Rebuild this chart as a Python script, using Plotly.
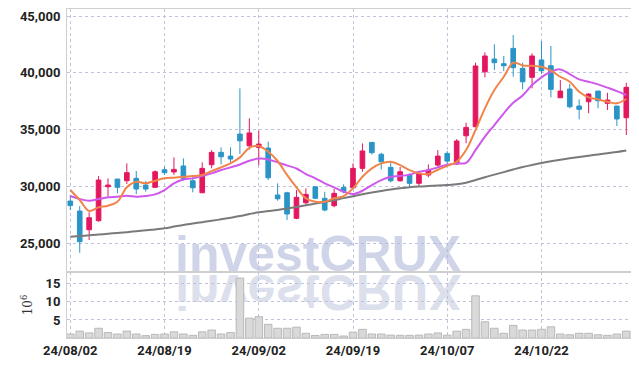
import plotly.graph_objects as go
import base64

dates = ["24/08/02","24/08/05","24/08/06","24/08/07","24/08/08","24/08/09","24/08/12","24/08/13","24/08/14","24/08/16",
         "24/08/19","24/08/20","24/08/21","24/08/22","24/08/23","24/08/26","24/08/27","24/08/28","24/08/29","24/08/30",
         "24/09/02","24/09/03","24/09/04","24/09/05","24/09/06","24/09/09","24/09/10","24/09/11","24/09/12","24/09/13",
         "24/09/19","24/09/20","24/09/23","24/09/24","24/09/25","24/09/26","24/09/27","24/09/30","24/10/02","24/10/04",
         "24/10/07","24/10/08","24/10/10","24/10/11","24/10/14","24/10/15","24/10/16","24/10/17","24/10/18","24/10/21",
         "24/10/22","24/10/23","24/10/24","24/10/25","24/10/28","24/10/29","24/10/30","24/10/31","24/11/01","24/11/04"]

open_ = [28700,27820,26170,26970,29960,30640,30490,30700,30110,29910,
         31460,31260,31790,30490,29430,31900,32990,32660,34600,33570,
         33430,33370,29230,29430,27180,28550,29960,28940,28290,29910,
         29870,31580,33870,32820,31670,30490,30990,30260,30990,31870,
         32900,31960,34450,35250,40090,41210,40800,42150,40390,39600,
         41130,40620,37800,38570,37070,37450,38390,37310,37070,36040]
high = [29230,28260,27710,30900,30700,30640,32020,31350,30460,31400,
        31720,32550,32460,30840,32110,33190,33430,33430,38630,35990,
        34900,33930,30260,29520,29670,29820,29960,29520,29760,30170,
        32020,33780,33870,32960,32110,31700,31140,31300,31930,33190,
        33100,34160,35600,40890,41800,42510,41480,43330,40890,41710,
        42800,42360,39360,39010,37660,38190,38400,38240,37070,39120]
low = [27910,24150,25270,26880,29080,29380,30200,29320,29520,29870,
       31000,31000,30500,29470,29430,31580,31930,32110,32840,33250,
       31850,30550,28730,27030,27100,28400,28900,27800,28150,29380,
       29870,31280,32800,31490,30350,30400,29960,29960,30790,31720,
       31900,31900,33790,35200,39600,40240,40150,39650,38540,38630,
       39900,37840,37800,36870,35900,36430,36870,36720,35310,34520]
close = [28300,25120,27230,30550,30110,29910,31200,29760,29760,31280,
         31200,31490,30700,29870,31580,32990,32600,32400,34010,34700,
         33720,30750,28900,27560,29030,29290,28940,27910,29380,29520,
         31580,33110,32960,32160,30490,31280,30260,31140,31430,32660,
         32220,33990,35190,40600,41480,40890,40620,40450,39210,41480,
         40180,38540,38390,37010,36780,38130,37540,37600,35930,38720]

ma5 = [29670,28790,27820,28150,28290,28640,29910,30400,30260,30490,
       30700,30760,30840,30900,30990,31340,31670,32020,32550,33380,
       33550,33050,32230,31000,29900,28940,28640,28640,28940,29140,
       29820,30840,31580,32020,32160,31870,31430,31140,31080,31460,
       31800,32160,33190,34960,36870,38480,39650,40890,40650,40620,
       40530,40200,39650,39210,38330,37840,37660,37450,37310,37690]
ma10 = [29140,28880,28730,28880,29030,29080,29170,29080,29140,29290,
        29670,30260,30600,30700,30900,31140,31430,31670,31920,32250,
        32440,32370,32110,31840,31570,31080,30700,30260,29910,29520,
        29320,29610,30110,30550,30840,30900,31030,31280,31430,31670,
        31900,32020,32070,33190,34370,35400,36430,37360,38000,38920,
        39600,40090,40300,39890,39420,39210,38980,38690,38390,38040]
ma_long = [25560,25620,25680,25750,25820,25890,25960,26040,26120,26200,
           26300,26450,26600,26720,26840,26960,27090,27230,27380,27560,
           27720,27820,27920,28050,28180,28330,28480,28630,28780,28960,
           29130,29300,29450,29590,29720,29830,29920,29980,30020,30060,
           30110,30180,30310,30560,30800,31030,31250,31480,31700,31880,
           32050,32200,32340,32470,32590,32700,32800,32910,33020,33150]

volume = [1.1,1.9,1.4,2.7,1.5,1.1,1.9,1.1,0.65,1.0,
          1.1,1.7,1.1,0.75,1.7,2.2,1.1,1.5,16.6,5.5,
          5.9,3.8,2.7,2.7,3.0,1.3,0.7,1.0,1.0,0.55,
          1.6,2.4,1.1,1.1,0.8,0.75,0.75,0.8,1.1,1.4,
          0.8,1.9,2.4,11.7,4.5,2.7,1.3,3.5,2.2,2.2,
          2.4,3.1,1.1,0.9,1.3,1.3,0.9,0.75,1.1,1.9]

tick_dates = ["24/08/02","24/08/19","24/09/02","24/09/19","24/10/07","24/10/22"]
price_ticks = [25000,30000,35000,40000,45000]
price_tick_text = ["25,000","30,000","35,000","40,000","45,000"]
vol_ticks = [5,10,15]

UP = "#e3175f"
DOWN = "#2b94c7"
TICKFONT = dict(family="Roboto, sans-serif", size=13, color="#222222", weight="bold")
GRID = "#bfc3dc"
FRAME = "#cfcfcf"

# the page body adds an 8px offset; compensate so the plot lands where the reference has it
OFF = 8
W, H = 639 - OFF, 366 - OFF
L, R, T, B = 66.7 - OFF, 8.3, 9 - OFF, 28
PW = W - L - R
PH = H - T - B

fig = go.Figure()

fig.add_trace(go.Bar(x=dates, y=volume, xaxis="x2", yaxis="y2",
                     marker=dict(color="#d9d9d9", line=dict(color="#b8b8b8", width=1)),
                     showlegend=False, hoverinfo="skip"))

fig.add_trace(go.Scatter(x=dates, y=ma_long, mode="lines", line=dict(color="#7a7a7a", width=2, shape="spline"),
                         showlegend=False, hoverinfo="skip"))

fig.add_trace(go.Candlestick(x=dates, open=open_, high=high, low=low, close=close,
                             increasing=dict(line=dict(color=UP, width=1), fillcolor=UP),
                             decreasing=dict(line=dict(color=DOWN, width=1), fillcolor=DOWN),
                             whiskerwidth=0, showlegend=False))

fig.add_trace(go.Scatter(x=dates, y=ma10, mode="lines", line=dict(color="#cf58ec", width=2, shape="spline"),
                         showlegend=False, hoverinfo="skip"))
fig.add_trace(go.Scatter(x=dates, y=ma5, mode="lines", line=dict(color="#f0844a", width=2, shape="spline"),
                         showlegend=False, hoverinfo="skip"))

# watermark reflection (decorative, vertically mirrored)
svg = ('<svg xmlns="http://www.w3.org/2000/svg" width="320" height="50">'
       '<g transform="scale(1,-1)">'
       '<text x="160" y="-1" text-anchor="middle" font-family="Liberation Sans, Arial, sans-serif" '
       'font-weight="bold" font-size="50" fill="#dcdfec">investCRUX</text></g></svg>')
src = "data:image/svg+xml;base64," + base64.b64encode(svg.encode()).decode()

bottom_px = 338 - OFF
split = (338 - 272) / PH
cx = (318 - 66.7) / PW

fig.update_layout(
    width=W, height=H,
    margin=dict(l=L, r=R, t=T, b=B, autoexpand=False),
    paper_bgcolor="white", plot_bgcolor="white",
    boxgap=0.3,
    xaxis=dict(type="category", anchor="y", matches="x2", showticklabels=False, automargin=False,
               rangeslider=dict(visible=False), range=[-0.35, 59.5],
               tickvals=tick_dates, showgrid=True, gridcolor=GRID, griddash="dot", gridwidth=1,
               showline=True, linecolor=FRAME, linewidth=1, mirror=True, ticks=""),
    xaxis2=dict(type="category", anchor="y2", range=[-0.35, 59.5], automargin=False,
                tickvals=tick_dates, ticktext=tick_dates, tickfont=TICKFONT,
                showgrid=True, gridcolor=GRID, griddash="dot", gridwidth=1,
                showline=True, linecolor=FRAME, linewidth=1, mirror=True, ticks="", tickangle=0),
    yaxis=dict(domain=[split, 1], range=[22450, 45620], tickvals=price_ticks, ticktext=price_tick_text,
               tickfont=TICKFONT, showgrid=True, gridcolor=GRID, griddash="dot", gridwidth=1, automargin=False,
               showline=True, linecolor=FRAME, linewidth=1, mirror=True, ticks="", zeroline=False,
               ticklabelstandoff=3),
    yaxis2=dict(domain=[0, split], range=[0, 18.3], tickvals=vol_ticks, tickfont=TICKFONT, automargin=False,
                showgrid=True, gridcolor=GRID, griddash="dot", gridwidth=1,
                showline=True, linecolor=FRAME, linewidth=1, mirror=True, ticks="", zeroline=False,
                ticklabelstandoff=3,
                title=dict(text="10<sup>6</sup>", font=dict(family="DejaVu Serif, serif", size=12, color="#333333"),
                           standoff=10)),
    images=[dict(source=src, xref="paper", yref="paper", x=cx, y=(338 - 274) / PH,
                 sizex=320 / PW, sizey=50 / PH, xanchor="center", yanchor="top", layer="below",
                 sizing="stretch")],
    annotations=[dict(text="investCRUX", xref="paper", yref="paper", x=cx, y=(338 - 275) / PH,
                      xanchor="center", yanchor="bottom", showarrow=False, yshift=-9,
                      font=dict(family="Liberation Sans, Arial, sans-serif", size=50, color="rgba(176,184,216,0.6)",
                                weight="bold"))],
)

fig.write_html("out.html")
